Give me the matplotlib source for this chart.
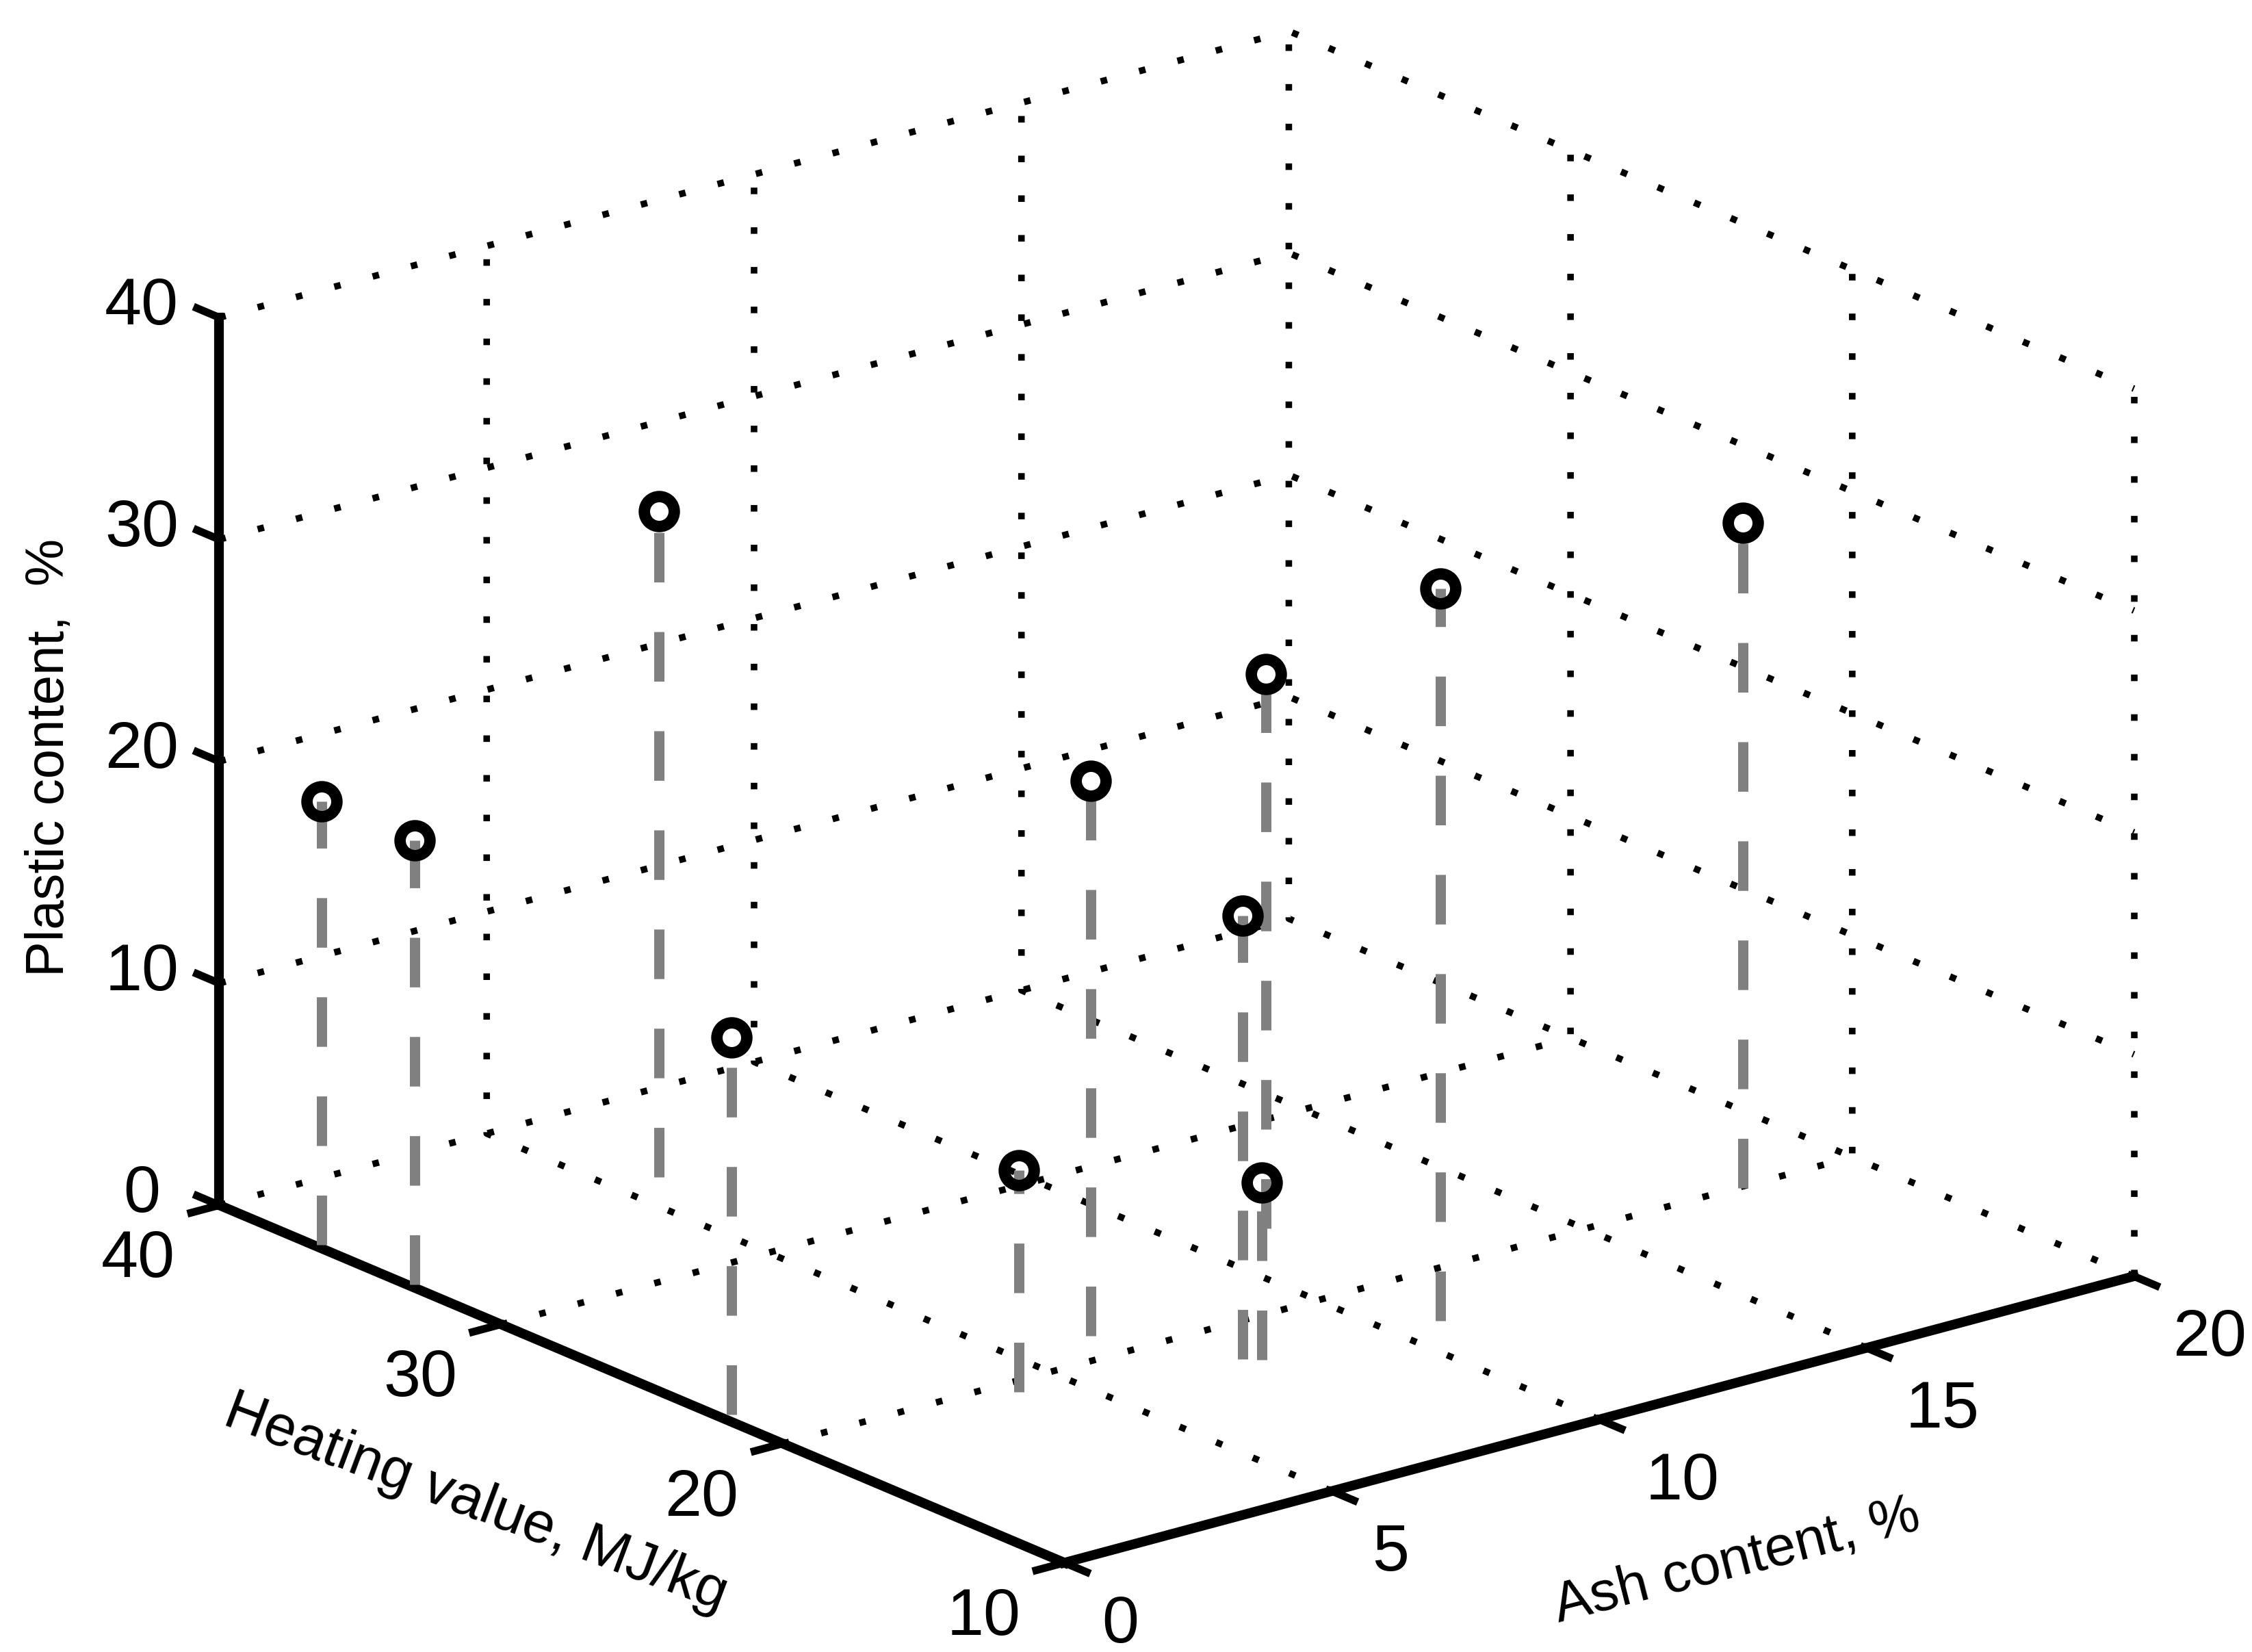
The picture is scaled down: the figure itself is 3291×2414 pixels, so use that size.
import matplotlib
matplotlib.use('Agg')
import matplotlib.pyplot as plt
from matplotlib.transforms import offset_copy
from mpl_toolkits.mplot3d import proj3d

W, H = 3291, 2414
DPI = 300

ash = [0.1, 0.1, 5.8, 0.2, 4.1, 6.45, 7.55, 11.35, 7.75, 10.85, 17.9]
heating = [36.55, 33.25, 35.4, 22.2, 19.4, 21.3, 18.0, 24.4, 17.7, 17.25, 19.9]
plastic = [20, 20, 30, 17, 10, 25, 20, 25, 8, 33, 30]

ash_ticks = [0, 5, 10, 15, 20]
heating_ticks = [10, 20, 30, 40]
plastic_ticks = [0, 10, 20, 30, 40]

plt.rcParams['font.family'] = ['Liberation Sans', 'DejaVu Sans']

fig = plt.figure(figsize=(W / DPI, H / DPI), dpi=DPI)
ax = fig.add_axes([0, 0, 1, 1], projection='3d', proj_type='ortho')
ax.computed_zorder = False
ax.view_init(elev=19.67, azim=-128.51)
ax.set_box_aspect((1997.4, 1983.6, 1377.4))
ax.set_xlim(0, 20)
ax.set_ylim(10, 40)
ax.set_zlim(0, 40)
ax.set_xticks(ash_ticks)
ax.set_yticks(heating_ticks)
ax.set_zticks(plastic_ticks)
ax.tick_params(labelsize=23.3, color='black', pad=4)
ax.grid(False)

for axis in (ax.xaxis, ax.yaxis, ax.zaxis):
    axis.set_pane_color((1, 1, 1, 0))
    axis.pane.set_edgecolor('none')
    axis.line.set_color('black')
    axis.line.set_linewidth(3.4)
    axis._axinfo['tick']['inward_factor'] = 0.33
    axis._axinfo['tick']['outward_factor'] = 0
    axis._axinfo['tick']['linewidth'] = {True: 2.7, False: 2.7}

# z ticks run along the heating axis, up and to the left
ax.zaxis._get_tickdir = lambda pos: 1
ax.zaxis._axinfo['tick']['inward_factor'] = 0
ax.zaxis._axinfo['tick']['outward_factor'] = 0.33

ax.set_xlabel('Ash content, %', fontsize=19.6, labelpad=14)
ax.set_ylabel('Heating value, MJ/kg', fontsize=20, labelpad=14)
ax.set_zlabel('Plastic content,  %', fontsize=18.7, labelpad=14)


def shift(text, dx, dy):
    # mplot3d resets the transform while drawing, so replace the getter
    text.get_transform = lambda: offset_copy(ax.transData, fig, x=dx, y=dy, units='dots')


def fix_rotation(text, angle):
    text.set_rotation(angle)
    text.set_rotation = lambda r: None


for tick, dx in zip(ax.xaxis.get_major_ticks(), [43, 47, 83, 72, 72]):
    shift(tick.label1, dx, 11)
for tick in ax.yaxis.get_major_ticks():
    shift(tick.label1, -69, 19)
for tick in ax.zaxis.get_major_ticks():
    shift(tick.label1, -25, 57)
shift(ax.xaxis.label, 88, -40)
shift(ax.yaxis.label, -99, -17)
shift(ax.zaxis.label, 10, -4)
fix_rotation(ax.xaxis.label, 14.3)
fix_rotation(ax.yaxis.label, -20.5)

# walls and floor, dotted; each line drawn once so the dots stay even
dotted = dict(color='black', lw=2.3, linestyle=(0, (1, 5.05)), zorder=1)
for a in ash_ticks[1:]:
    ax.plot([a, a, a], [10, 40, 40], [0, 0, 40], **dotted)
for h in heating_ticks[1:-1]:
    ax.plot([0, 20, 20], [h, h, h], [0, 0, 40], **dotted)
ax.plot([0, 20], [40, 40], [0, 0], **dotted)
ax.plot([20, 20], [10, 10], [0, 40], **dotted)
for z in plastic_ticks[1:]:
    ax.plot([0, 20, 20], [40, 40, 10], [z, z, z], **dotted)

for x, y, z in zip(ash, heating, plastic):
    ax.plot([x, x], [y, y], [0, z], color='#808080', lw=3.6,
            linestyle=(0, (4.83, 4.83)), zorder=2)
ax.plot(ash, heating, plastic, linestyle='none', marker='o', ms=10.5,
        mfc='none', mec='black', mew=4, zorder=3)

# fit the 3d box onto the spot it has in the picture
M = ax.get_proj()
corners = [(0, 10), (20, 10), (0, 40), (20, 40)]
pts = [proj3d.proj_transform(a, b, 0, M)[:2] for a, b in corners]
cx = sum(p[0] for p in pts) / 4
cy = sum(p[1] for p in pts) / 4
z_span = proj3d.proj_transform(0, 10, 40, M)[1] - pts[0][1]
side = 1297 / z_span * ax.viewLim.width
left = 1719.5 - (cx - ax.viewLim.x0) / ax.viewLim.width * side
bottom = (H - 1813) - (cy - ax.viewLim.y0) / ax.viewLim.height * side
ax.set_position([left / W, bottom / H, side / W, side / H])

fig.savefig('out.png', dpi=DPI, facecolor='white')
